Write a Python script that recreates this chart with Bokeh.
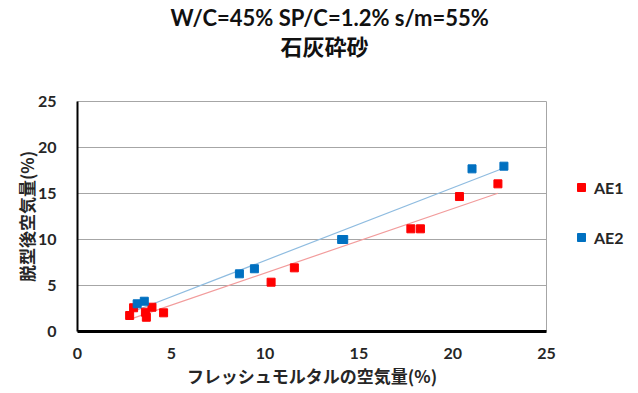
import numpy as np
from bokeh.plotting import figure
from bokeh.layouts import row
from bokeh.models import Title, Legend, LegendItem, Range1d, FixedTicker
from bokeh.embed import file_html
from bokeh.resources import INLINE

# --- data ---
ae1_x = [2.78, 2.99, 3.67, 3.62, 3.97, 4.59, 10.32, 11.56, 17.77, 18.28, 20.36, 22.41]
ae1_y = [1.74, 2.58, 1.55, 2.10, 2.64, 2.03, 5.36, 6.92, 11.16, 11.16, 14.67, 16.05]
ae2_x = [3.18, 3.56, 8.63, 9.43, 14.08, 14.19, 21.03, 22.73]
ae2_y = [3.01, 3.29, 6.27, 6.82, 10.00, 10.00, 17.68, 17.97]
series_names = ["AE1", "AE2"]
series_colors = ["#FF0000", "#0070C0"]
ticks = [0, 5, 10, 15, 20, 25]
title_line1 = "W/C=45% SP/C=1.2% s/m=55%"
title_line2 = "石灰砕砂"
x_label = "フレッシュモルタルの空気量(%)"
y_label = "脱型後空気量(%)"

LAT = "Lato, Noto Sans CJK JP"
CJK = "Noto Sans CJK JP"

p = figure(width=556, height=393, output_backend="svg", toolbar_location=None,
           title=None, x_range=Range1d(0, 25), y_range=Range1d(0, 25),
           min_border_left=77, min_border_right=10, min_border_top=101,
           min_border_bottom=62)
p.background_fill_color = "white"
p.border_fill_color = "white"
p.outline_line_color = "#A6A6A6"
p.outline_line_width = 1

# titles (first added is nearest to the plot area); a blank spacer keeps them up
spacer = Title(text=" ", text_font=LAT, text_font_size="10px", standoff=27)
t2 = Title(text=title_line2, align="left", text_font=CJK, text_font_size="22px",
           text_font_style="bold", text_color="#111111", standoff=0, offset=203)
t1 = Title(text=title_line1, align="left", text_font=LAT, text_font_size="22px",
           text_font_style="bold", text_color="#111111", standoff=-8, offset=93)
p.add_layout(spacer, "above")
p.add_layout(t2, "above")
p.add_layout(t1, "above")

# axes
for ax in (p.xaxis[0], p.yaxis[0]):
    ax.ticker = FixedTicker(ticks=ticks)
    ax.major_tick_out = 0
    ax.major_tick_in = 0
    ax.minor_tick_out = 0
    ax.minor_tick_in = 0
    ax.axis_line_color = "black"
    ax.major_label_text_font = LAT
    ax.major_label_text_font_size = "16px"
    ax.major_label_text_font_style = "bold"
    ax.major_label_text_color = "#262626"
    ax.axis_label_text_font = CJK
    ax.axis_label_text_font_size = "17px"
    ax.axis_label_text_font_style = "bold"
    ax.axis_label_text_color = "#262626"

p.xaxis[0].axis_line_width = 3
p.yaxis[0].axis_line_width = 2
p.xaxis[0].axis_label = x_label
p.yaxis[0].axis_label = y_label
p.xaxis[0].major_label_standoff = 16
p.xaxis[0].axis_label_standoff = 1
p.yaxis[0].major_label_standoff = 21
p.yaxis[0].axis_label_standoff = -4

p.xgrid.grid_line_color = None
p.ygrid.ticker = FixedTicker(ticks=ticks)
p.ygrid.grid_line_color = "#A6A6A6"
p.ygrid.grid_line_width = 1

# trend lines (linear fit of each series)
def fit_line(xs, ys):
    k, b = np.polyfit(xs, ys, 1)
    x0, x1 = min(xs), max(xs)
    return [x0, x1], [k * x0 + b, k * x1 + b]

lx1, ly1 = fit_line(ae1_x, ae1_y)
lx2, ly2 = fit_line(ae2_x, ae2_y)
p.line(lx1, ly1, line_color="#F29C9C", line_width=1.2)
p.line(lx2, ly2, line_color="#8FBCE0", line_width=1.2)

p.scatter(ae1_x, ae1_y, marker="square", size=8, fill_color=series_colors[0],
          line_color=series_colors[0])
p.scatter(ae2_x, ae2_y, marker="square", size=8, fill_color=series_colors[1],
          line_color=series_colors[1])

# legend panel to the right of the plot area (legend-only renderers are hidden)
q = figure(width=82, height=393, output_backend="svg", toolbar_location=None,
           title=None, min_border=0, x_range=Range1d(0, 1), y_range=Range1d(0, 1))
q.axis.visible = False
q.grid.visible = False
q.outline_line_color = None
q.background_fill_color = "white"
q.border_fill_color = "white"
g1 = q.scatter(ae1_x, ae1_y, marker="square", size=8, fill_color=series_colors[0],
               line_color=series_colors[0], visible=False)
g2 = q.scatter(ae2_x, ae2_y, marker="square", size=8, fill_color=series_colors[1],
               line_color=series_colors[1], visible=False)
legend = Legend(items=[LegendItem(label=series_names[0], renderers=[g1]),
                       LegendItem(label=series_names[1], renderers=[g2])],
                location=(15, 84), orientation="vertical",
                glyph_width=20, glyph_height=20, label_height=20, spacing=30,
                padding=0, margin=0, label_standoff=3,
                border_line_color=None, background_fill_alpha=0,
                inactive_fill_alpha=0,
                label_text_font=LAT, label_text_font_size="16px",
                label_text_font_style="bold", label_text_color="#262626")
q.add_layout(legend, "center")

layout = row(p, q)
open("out.html", "w").write(file_html(layout, INLINE))
